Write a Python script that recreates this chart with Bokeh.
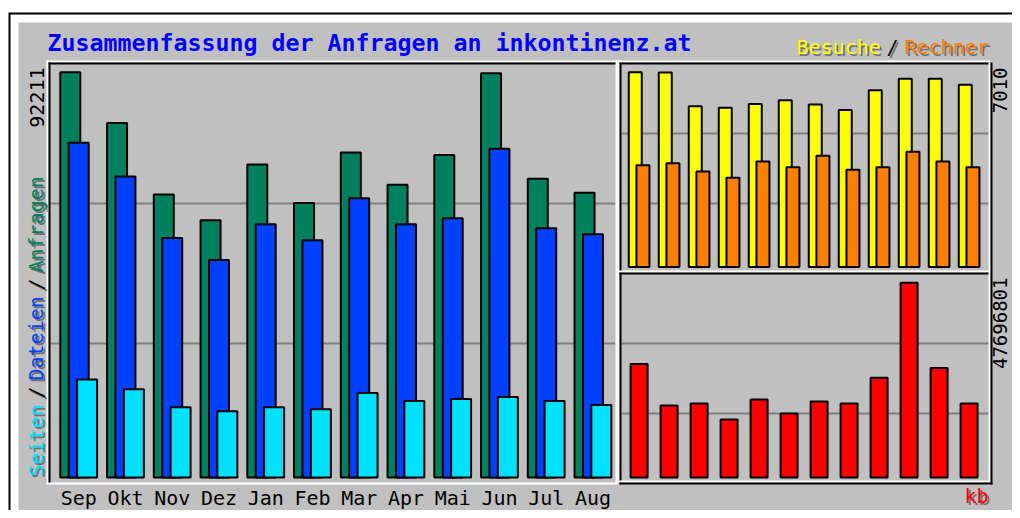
import math
from bokeh.plotting import figure
from bokeh.models import Range1d
from bokeh.embed import file_html
from bokeh.resources import INLINE
from bokeh.core.properties import value

# ---------------- data ----------------
months = ["Sep", "Okt", "Nov", "Dez", "Jan", "Feb", "Mar", "Apr", "Mai", "Jun", "Jul", "Aug"]
hits = [92211, 80680, 64410, 58530, 71190, 62450, 73970, 66600, 73380, 91980, 67960, 64790]
files = [76160, 68480, 54470, 49490, 57630, 53950, 63510, 57630, 58990, 74810, 56730, 55370]
pages = [22310, 20050, 15980, 15070, 15980, 15530, 19210, 17400, 17850, 18310, 17400, 16500]
visits = [7010, 7000, 5788, 5728, 5870, 6002, 5849, 5646, 6358, 6775, 6775, 6561]
sites = [3662, 3733, 3437, 3213, 3793, 3590, 4007, 3498, 3590, 4150, 3793, 3590]
kbytes = [27810000, 17630000, 18110000, 14230000, 19080000, 15690000, 18600000,
          18110000, 24420000, 47696801, 26840000, 18110000]

title = "Zusammenfassung der Anfragen an inkontinenz.at"
lbl_hits, lbl_files, lbl_pages = "Anfragen", "Dateien", "Seiten"
lbl_visits, lbl_sites, lbl_kb = "Besuche", "Rechner", "kb"

# ---------------- colours ----------------
C_HIT, C_FILE, C_PAGE = "#00805C", "#0040FF", "#00E0FF"
C_VISIT, C_SITE, C_KB = "#FFFF00", "#FF8000", "#FF0000"
GREY, DKGREY, SHADOW = "#C0C0C0", "#808080", "#707070"

# ---------------- figure (canvas-pixel coordinate system for decorations) ----------------
W, H = 1012, 510
p = figure(width=W, height=H, x_range=Range1d(0, W), y_range=Range1d(H, 0),
           output_backend="svg", toolbar_location=None, min_border=0,
           x_axis_location=None, y_axis_location=None,
           background_fill_color="white", border_fill_color="white",
           outline_line_color=None)
p.xgrid.visible = False
p.ygrid.visible = False


def xr(a, b):
    # range such that data x maps to pixel a + b*x
    s = -a / b
    return Range1d(s, s + W / b)


def yr(base, k):
    # range such that data v maps to pixel base - k*v
    e = base / k
    return Range1d(e - H / k, e)


p.extra_x_ranges = {
    "mx": xr(78.2, 46.75),
    "rx": xr(638.6, 30.0),
}
p.extra_y_ranges = {
    "my": yr(477.0, 405.3 / max(hits)),
    "ty": yr(266.5, 194.8 / max(visits)),
    "by": yr(477.0, 194.7 / max(kbytes)),
}

# ---------------- frame / bevel decorations ----------------
p.quad(left=[8], right=[W], top=[12], bottom=[H], fill_color="black", line_color=None)
p.quad(left=[10], right=[W], top=[14], bottom=[H], fill_color="white", line_color=None)
p.quad(left=[18], right=[W], top=[22], bottom=[H], fill_color=GREY, line_color=None)


def hline(y, x1, x2, color, w=2):
    p.segment(x0=[x1], y0=[y], x1=[x2], y1=[y], line_color=color, line_width=w)


def vline(x, y1, y2, color, w=2):
    p.segment(x0=[x], y0=[y1], x1=[x], y1=[y2], line_color=color, line_width=w)


# grid lines
for gy in (203, 343):
    hline(gy, 50, 615, DKGREY)
for gy in (133, 203):
    hline(gy, 621, 989, DKGREY)
for gy in (343, 413):
    hline(gy, 621, 989, DKGREY)

# main panel
hline(61, 46, 617, "white"); vline(47, 60, 484, "white")
hline(483, 46, 617, "white"); vline(616, 60, 484, "white")
hline(63, 48, 615, "black"); vline(49, 62, 482, "black")
# right panels
vline(618, 60, 482, "white"); hline(61, 617, 990, "white")
vline(620, 62, 484, "black"); hline(63, 619, 990, "black")
hline(271, 617, 990, "white"); hline(273, 619, 990, "black")
hline(481, 617, 990, "white"); vline(989, 62, 482, "white")
hline(483, 619, 992, "black"); vline(991, 62, 484, "black")

# ---------------- bars ----------------
idx = list(range(len(months)))
mo = 8.4 / 46.75
mw = 20 / 46.75
p.vbar(x=[i - mo for i in idx], top=hits, bottom=0, width=mw, fill_color=C_HIT,
       line_color="black", line_width=2, x_range_name="mx", y_range_name="my")
p.vbar(x=idx, top=files, bottom=0, width=mw, fill_color=C_FILE,
       line_color="black", line_width=2, x_range_name="mx", y_range_name="my")
p.vbar(x=[i + mo for i in idx], top=pages, bottom=0, width=mw, fill_color=C_PAGE,
       line_color="black", line_width=2, x_range_name="mx", y_range_name="my")

to = 3.85 / 30
p.vbar(x=[i - to for i in idx], top=visits, bottom=0, width=13 / 30, fill_color=C_VISIT,
       line_color="black", line_width=2, x_range_name="rx", y_range_name="ty")
p.vbar(x=[i + to for i in idx], top=sites, bottom=0, width=13 / 30, fill_color=C_SITE,
       line_color="black", line_width=2, x_range_name="rx", y_range_name="ty")

p.vbar(x=idx, top=kbytes, bottom=0, width=17 / 30, fill_color=C_KB,
       line_color="black", line_width=2, x_range_name="rx", y_range_name="by")

# ---------------- texts ----------------
FONT = value("DejaVu Sans Mono")
SH20 = 7   # observed anchor-to-baseline shift for 20px text
SH23 = 8


def txt(x, y, s, color, size="20px", align="left", angle=0.0, style="normal", shadow=False):
    if shadow:
        p.text(x=[x + 2], y=[y + 2], text=[s], text_color=SHADOW, text_font=FONT,
               text_font_size=size, text_align=align, text_baseline="alphabetic",
               angle=angle, text_font_style=style)
    p.text(x=[x], y=[y], text=[s], text_color=color, text_font=FONT,
           text_font_size=size, text_align=align, text_baseline="alphabetic",
           angle=angle, text_font_style=style)


txt(47, 50 - SH23, title, "#0000FF", size="23.25px", style="bold")

# month labels
p.text(x=idx, y=[504 - SH20] * len(idx), text=months, text_color="black", text_font=FONT,
       text_font_size="20px", text_align="center", text_baseline="alphabetic",
       x_range_name="mx")

# legends
txt(796, 53 - SH20, lbl_visits, C_VISIT, shadow=True)
txt(886, 53 - SH20, "/", "black", shadow=True)
txt(904, 53 - SH20, lbl_sites, C_SITE, shadow=True)
txt(988, 502 - SH20, lbl_kb, C_KB, align="right", shadow=True)

up = math.pi / 2
lx = 42 - SH20
txt(lx, 476, lbl_pages, C_PAGE, angle=up, shadow=True)
txt(lx, 398, "/", "black", angle=up, shadow=True)
txt(lx, 380, lbl_files, C_FILE, angle=up, shadow=True)
txt(lx, 290, "/", "black", angle=up, shadow=True)
txt(lx, 272, lbl_hits, C_HIT, angle=up, shadow=True)

# maxima
txt(43 - SH20, 67, str(max(hits)), "black", align="right", angle=up)
txt(1006 - SH20, 67, str(max(visits)), "black", size="19px", align="right", angle=up)
txt(1006 - SH20, 277, str(max(kbytes)), "black", size="19px", align="right", angle=up)

open("out.html", "w").write(file_html(p, INLINE))
